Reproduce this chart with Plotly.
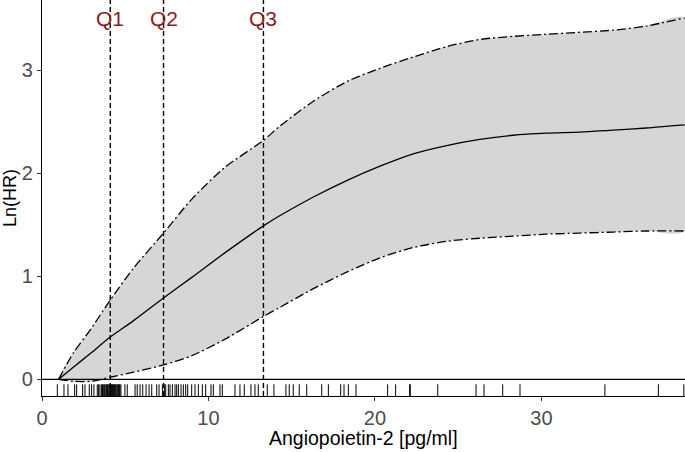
import plotly.graph_objects as go

# ---- data ----
x_grid = [1.0, 1.9, 2.9, 4.1, 5.5, 7.3, 9.0, 11.0, 13.3, 14.3, 16.3, 18.3, 20.3,
          22.3, 24.3, 26.3, 28.3, 30.3, 32.3, 34.3, 36.3, 38.6]
ln_hr = [0.0, 0.12, 0.25, 0.41, 0.57, 0.79, 0.99, 1.23, 1.49, 1.59, 1.77, 1.93, 2.07,
         2.19, 2.27, 2.33, 2.37, 2.39, 2.40, 2.42, 2.44, 2.47]
upper = [0.0, 0.26, 0.48, 0.77, 1.08, 1.42, 1.75, 2.06, 2.32, 2.46, 2.70, 2.89, 3.02,
         3.13, 3.23, 3.30, 3.33, 3.35, 3.37, 3.39, 3.43, 3.51]
lower = [0.0, -0.02, -0.02, 0.02, 0.07, 0.14, 0.23, 0.39, 0.61, 0.70, 0.88, 1.04, 1.18,
         1.28, 1.34, 1.37, 1.39, 1.41, 1.42, 1.43, 1.44, 1.44]

quartile_labels = ["Q1", "Q2", "Q3"]
quartile_values = [4.1, 7.3, 13.3]

rug_values = [0.92, 1.32, 1.56, 1.96, 2.08, 2.44, 2.58, 2.84, 2.98, 3.12, 3.32, 3.40,
              3.48, 3.58, 3.64, 3.68, 3.74, 3.78, 3.84, 3.88, 3.94, 3.98, 4.04, 4.08,
              4.12, 4.16, 4.19, 4.24, 4.28, 4.32, 4.36, 4.40, 4.45, 4.50, 4.55, 4.60,
              4.64, 4.68, 4.74, 4.98, 5.12, 5.59, 5.72, 5.89, 6.05, 6.25, 6.43, 6.59,
              6.89, 7.03, 7.23, 7.35, 7.43, 7.59, 7.69, 7.83, 7.99, 8.09, 8.19, 8.35,
              8.49, 8.63, 8.75, 8.99, 9.19, 9.39, 9.63, 9.83, 10.15, 10.29, 10.69,
              10.83, 11.59, 11.89, 12.15, 12.55, 12.79, 12.99, 13.53, 13.93, 14.65,
              14.85, 15.09, 15.45, 15.90, 16.80, 17.20, 17.94, 18.14, 18.40, 18.86,
              20.76, 21.24, 22.08, 22.12, 23.77, 26.07, 26.55, 27.67, 28.71, 33.81,
              37.02, 38.55]

x_ticks = [0, 10, 20, 30]
y_ticks = [0, 1, 2, 3]
x_range = [0, 38.62]
y_range = [-0.162, 3.683]

FONT = "Arial, Liberation Sans, sans-serif"
TICK_GREY = "#4D4D4D"
SMOOTH = dict(shape="spline", smoothing=0.7)

fig = go.Figure()

# ribbon
fig.add_trace(go.Scatter(x=x_grid + x_grid[::-1], y=upper + lower[::-1],
                         fill="toself", fillcolor="#D6D6D6",
                         line=dict(width=0, **SMOOTH),
                         mode="lines", hoverinfo="skip", showlegend=False))
# band edges
for band in (upper, lower):
    fig.add_trace(go.Scatter(x=x_grid, y=band, mode="lines",
                             line=dict(color="black", width=1.3, dash="9px,3px,2px,3px",
                                       **SMOOTH),
                             showlegend=False))
# main curve
fig.add_trace(go.Scatter(x=x_grid, y=ln_hr, mode="lines",
                         line=dict(color="black", width=1.3, **SMOOTH), showlegend=False))

# zero reference line
fig.add_trace(go.Scatter(x=x_range, y=[0, 0], mode="lines",
                         line=dict(color="black", width=1.2), showlegend=False))

# quartile lines
for q in quartile_values:
    fig.add_trace(go.Scatter(x=[q, q], y=y_range, mode="lines",
                             line=dict(color="black", width=1.4, dash="5px,3px"),
                             showlegend=False))

# rug
fig.add_trace(go.Scatter(x=rug_values, y=[-0.1165] * len(rug_values), mode="markers",
                         marker=dict(symbol="line-ns-open", size=10, color="black",
                                     line=dict(color="black", width=1)),
                         showlegend=False))

# quartile labels
for lab, q in zip(quartile_labels, quartile_values):
    fig.add_annotation(x=q, y=3.50, text=lab, showarrow=False, yanchor="middle",
                       font=dict(family=FONT, size=21, color="#8B1A1A"))

# axis titles
fig.add_annotation(xref="paper", yref="paper", x=0.5, y=0, yshift=-42,
                   text="Angiopoietin-2 [pg/ml]", showarrow=False, yanchor="middle",
                   font=dict(family=FONT, size=19.5, color="black"))
fig.add_annotation(xref="paper", yref="paper", x=0, y=0.5, xshift=-32,
                   text="Ln(HR)", showarrow=False, textangle=-90, xanchor="center",
                   font=dict(family=FONT, size=18, color="black"))

fig.update_layout(
    width=685, height=452,
    margin=dict(l=42, r=0, t=0, b=56),
    paper_bgcolor="white", plot_bgcolor="white",
    font=dict(family=FONT),
    xaxis=dict(range=x_range, tickvals=x_ticks, showgrid=False, zeroline=False,
               showline=True, linecolor="black", linewidth=1.2,
               ticks="outside", ticklen=4, tickcolor="#333333",
               tickfont=dict(size=20, color=TICK_GREY, family=FONT)),
    yaxis=dict(range=y_range, tickvals=y_ticks, showgrid=False, zeroline=False,
               showline=True, linecolor="black", linewidth=1.2,
               ticks="outside", ticklen=4, tickcolor="#333333",
               tickfont=dict(size=20, color=TICK_GREY, family=FONT)),
)

fig.write_html("out.html", config={"displayModeBar": False},
               post_script="document.body.style.margin='0';")
